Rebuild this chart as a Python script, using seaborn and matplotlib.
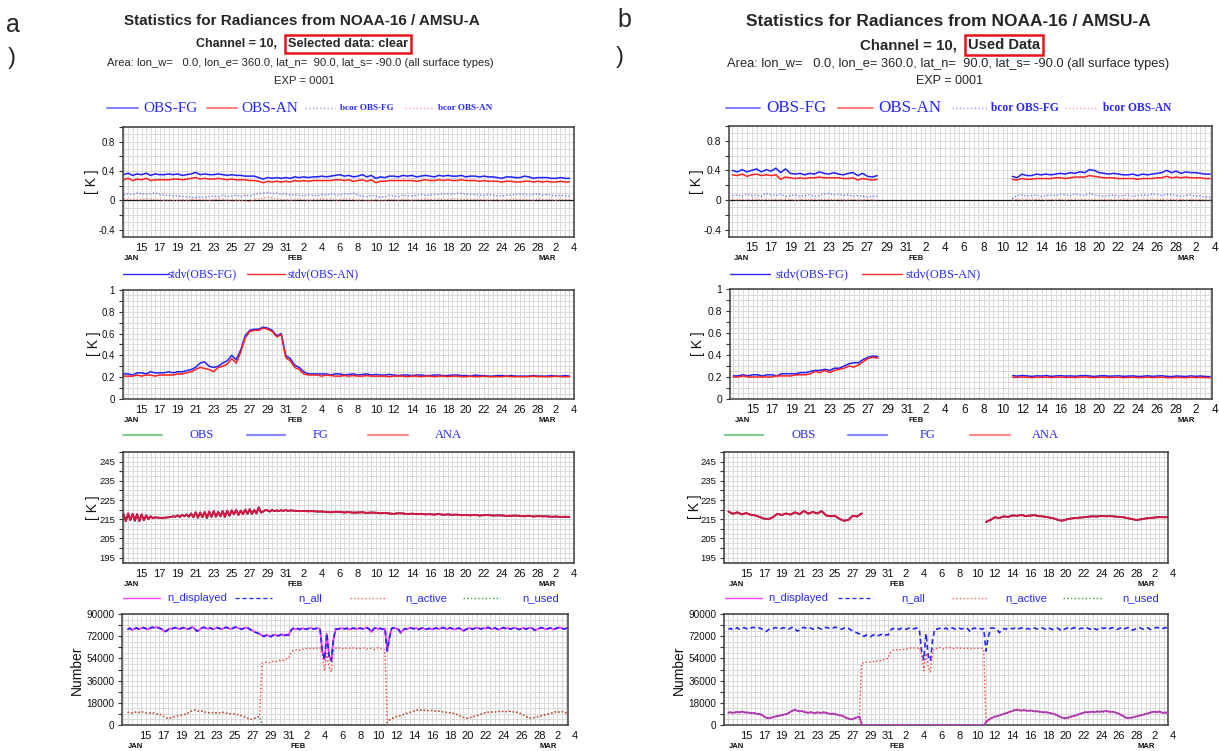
import numpy as np
import pandas as pd
import matplotlib
matplotlib.use("Agg")
import matplotlib.pyplot as plt
import seaborn as sns
from matplotlib.ticker import MultipleLocator, FixedLocator, FuncFormatter, NullFormatter
from matplotlib.lines import Line2D
from matplotlib.transforms import blended_transform_factory, offset_copy

# ---------------------------------------------------------------- data
# observation times in day-of-year (Jan 13 = 13, Feb 1 = 32, Mar 1 = 60)
t12 = np.arange(13.0, 63.0, 0.5)    # 12-hourly  Jan 13 00 .. Mar 3 12
t6 = np.arange(13.0, 63.0, 0.25)    # 6-hourly   Jan 13 00 .. Mar 3 18

xtick_days = [15, 17, 19, 21, 23, 25, 27, 29, 31, 33, 35, 37, 39, 41, 43, 45,
              47, 49, 51, 53, 55, 57, 59, 61, 63]
xtick_labels = ["15", "17", "19", "21", "23", "25", "27", "29", "31", "2", "4",
                "6", "8", "10", "12", "14", "16", "18", "20", "22", "24", "26",
                "28", "2", "4"]
month_days = [13.9, 32, 60]
month_labels = ["JAN", "FEB", "MAR"]

# ---- panel 1 : mean departures [K], 12-hourly
mean_fg_a = [.35, .37, .34, .36, .35, .37, .34, .36, .35, .35,
             .36, .35, .36, .34, .35, .36, .38, .35, .36, .35,
             .35, .36, .35, .34, .35, .34, .34, .33, .33, .33,
             .31, .29, .31, .30, .31, .30, .31, .30, .32, .31,
             .32, .31, .32, .32, .33, .32, .33, .34, .35, .33,
             .34, .32, .33, .35, .32, .34, .30, .32, .31, .33,
             .33, .32, .34, .33, .34, .32, .33, .34, .33, .32,
             .34, .33, .34, .33, .33, .34, .32, .33, .33, .32,
             .33, .32, .32, .31, .30, .32, .32, .31, .31, .33,
             .32, .30, .31, .31, .31, .30, .30, .31, .30, .30]
mean_an_a = [.28, .30, .27, .29, .28, .30, .27, .28, .28, .28,
             .28, .29, .29, .28, .29, .30, .31, .29, .30, .29,
             .29, .30, .29, .28, .29, .28, .28, .28, .27, .27,
             .26, .24, .26, .25, .26, .25, .26, .25, .27, .26,
             .27, .26, .27, .27, .27, .27, .27, .28, .28, .27,
             .28, .26, .27, .28, .26, .28, .24, .26, .26, .27,
             .27, .27, .27, .27, .27, .26, .27, .28, .27, .27,
             .28, .27, .28, .27, .27, .28, .27, .27, .27, .26,
             .27, .26, .26, .26, .25, .26, .26, .25, .25, .26,
             .26, .25, .26, .25, .26, .25, .25, .26, .25, .25]
bcor_fg_a = [.08, .09, .08, .10, .09, .08, .09, .10, .08, .07,
             .07, .06, .06, .05, .05, .04, .04, .05, .04, .05,
             .06, .05, .07, .05, .06, .07, .05, .07, .06, .08,
             .09, .10, .11, .09, .10, .08, .09, .07, .08, .07,
             .06, .08, .07, .06, .08, .07, .09, .08, .07, .09,
             .08, .10, .07, .06, .05, .07, .06, .04, .05, .07,
             .06, .05, .07, .06, .06, .07, .08, .07, .07, .08,
             .08, .09, .09, .08, .10, .09, .09, .08, .08, .07,
             .07, .08, .07, .06, .06, .07, .07, .08, .09, .08,
             .07, .08, .09, .07, .08, .07, .06, .07, .06, .06]
bcor_an_a = [.02, .01, .02, .01, .01, .02, .02, .01, .01, .00,
             .01, .00, .00, .01, .00, .01, .02, .01, .01, .00,
             .01, .02, .01, .00, .01, .00, .00, -.01, -.02, .01,
             .02, .03, .04, .03, .02, .01, .01, .00, .01, .02,
             .01, .00, .01, .01, .02, .01, .02, .00, .01, .02,
             .02, .01, .00, .01, -.01, .00, .01, -.01, .00, .01,
             .01, .00, .01, .01, .00, .01, .01, .02, .01, .01,
             .02, .01, .01, .02, .02, .01, .01, .02, .01, .01,
             .01, .00, .01, .01, .00, .01, .01, .02, .01, .01,
             .01, .00, .02, .01, .01, .01, .00, .01, .01, .01]
# used data (b): Jan 13 00 .. Jan 28 00 and Feb 11 00 .. Mar 3 12
mean_fg_b1 = [.40, .38, .41, .38, .40, .42, .38, .41, .39, .43,
              .37, .42, .36, .35, .36, .34, .36, .35, .38, .36,
              .35, .37, .35, .34, .36, .37, .33, .36, .32, .31, .33]
mean_an_b1 = [.34, .33, .35, .32, .34, .35, .33, .34, .33, .34,
              .28, .31, .30, .29, .30, .29, .30, .30, .31, .30,
              .30, .30, .30, .29, .29, .30, .27, .29, .28, .27, .28]
bcor_fg_b1 = [.06, .07, .05, .08, .06, .07, .05, .09, .07, .06,
              .08, .05, .06, .07, .05, .06, .07, .05, .06, .08,
              .09, .07, .08, .06, .07, .05, .06, .05, .04, .05, .05]
bcor_an_b1 = [.01, .00, .01, .00, .01, .01, .00, .01, .00, .01,
              .00, .01, .01, .00, .00, .01, .00, .01, .00, .01,
              .01, .00, .01, .00, .00, .01, .00, .00, .01, .00, .00]
mean_fg_b2 = [.32, .30, .35, .33, .33, .35, .34, .35, .34, .35,
              .36, .35, .37, .36, .38, .37, .41, .40, .37, .36,
              .35, .36, .35, .34, .34, .35, .33, .35, .34, .35,
              .36, .37, .40, .37, .39, .36, .38, .37, .37, .36,
              .35, .35]
mean_an_b2 = [.28, .27, .29, .28, .28, .29, .29, .29, .29, .30,
              .30, .29, .30, .31, .31, .31, .33, .32, .31, .30,
              .30, .30, .29, .29, .29, .29, .28, .29, .29, .29,
              .30, .30, .32, .30, .31, .30, .31, .30, .30, .30,
              .29, .29]
bcor_fg_b2 = [.02, .06, .07, .05, .06, .07, .05, .06, .07, .06,
              .08, .07, .06, .08, .07, .06, .09, .07, .06, .05,
              .06, .07, .05, .06, .07, .05, .06, .07, .06, .08,
              .07, .06, .08, .07, .06, .05, .06, .07, .05, .06,
              .04, .04]
bcor_an_b2 = [.00, .01, .00, .01, .00, .01, .01, .00, .01, .00,
              .01, .00, .01, .01, .00, .01, .00, .01, .00, .01,
              .00, .01, .00, .01, .01, .00, .01, .00, .01, .00,
              .01, .01, .00, .01, .00, .01, .00, .01, .00, .01,
              .00, .00]

# ---- panel 2 : standard deviations [K], 12-hourly
stdv_fg_a = [.23, .23, .22, .24, .24, .23, .25, .24, .24, .24,
             .25, .24, .25, .25, .26, .27, .29, .33, .34, .30,
             .29, .30, .33, .35, .40, .36, .45, .58, .63, .64,
             .64, .66, .65, .63, .58, .60, .40, .37, .31, .29,
             .25, .23, .23, .23, .23, .23, .22, .23, .23, .22,
             .225, .23, .22, .225, .23, .22, .225, .22, .22, .225,
             .22, .215, .22, .22, .215, .22, .22, .215, .215, .22,
             .22, .215, .215, .22, .22, .215, .215, .21, .22, .215,
             .215, .21, .21, .215, .215, .21, .215, .21, .21, .21,
             .21, .215, .21, .21, .21, .215, .21, .21, .215, .21]
stdv_an_a = [.21, .21, .21, .22, .21, .22, .22, .21, .22, .22,
             .22, .22, .23, .23, .24, .25, .27, .29, .28, .27,
             .25, .29, .30, .32, .37, .33, .43, .56, .62, .63,
             .63, .65, .64, .62, .57, .59, .38, .35, .29, .27,
             .23, .22, .22, .22, .21, .22, .215, .21, .21, .215,
             .21, .215, .21, .21, .215, .21, .21, .21, .21, .205,
             .21, .21, .21, .205, .21, .21, .205, .21, .21, .205,
             .21, .21, .205, .21, .21, .205, .205, .21, .205, .205,
             .21, .205, .205, .205, .205, .21, .205, .205, .205, .205,
             .205, .21, .205, .205, .205, .205, .21, .205, .205, .205]
stdv_fg_b1 = [.21, .21, .22, .21, .22, .22, .21, .22, .22, .21,
              .23, .23, .23, .23, .24, .24, .25, .26, .26, .27,
              .26, .28, .28, .30, .32, .33, .33, .36, .38, .39, .385]
stdv_an_b1 = [.20, .20, .21, .20, .20, .20, .20, .20, .20, .21,
              .21, .21, .21, .22, .22, .22, .23, .25, .24, .26,
              .24, .26, .27, .28, .30, .29, .31, .34, .37, .38, .37]
stdv_fg_b2 = [.212, .208, .214, .210, .205, .211, .209, .213, .206, .210,
              .212, .208, .210, .207, .211, .213, .209, .205, .210, .212,
              .207, .209, .211, .206, .208, .210, .205, .207, .211, .206,
              .209, .211, .206, .204, .209, .207, .205, .210, .206, .209,
              .205, .204]
stdv_an_b2 = [.198, .196, .200, .197, .194, .199, .197, .200, .195, .198,
              .199, .196, .198, .195, .199, .200, .197, .194, .198, .199,
              .195, .197, .199, .194, .196, .198, .194, .195, .199, .195,
              .197, .198, .194, .193, .197, .195, .194, .198, .195, .197,
              .194, .193]

# ---- panel 3 : brightness temperature [K]  (OBS, FG and ANA coincide)
tb_a_early = [217.5, 214.0, 218.0, 214.5, 217.8, 214.2, 217.6, 214.0,   # Jan 13-14, 6-hourly
              217.5, 214.5, 217.0, 215.0, 216.5, 215.5, 216.0, 215.8,
              215.8, 215.6, 215.8, 215.9, 216.0, 216.2, 216.5, 216.3,
              217.0, 216.2, 217.3, 216.5, 217.5, 216.3, 218.0, 216.0,
              218.6, 215.8, 218.5, 216.0, 218.8, 215.6, 219.0, 216.2,
              219.2, 216.3, 218.8, 216.5, 219.3, 216.2, 219.5, 216.8,
              219.6, 217.5, 219.8, 217.2, 219.5, 217.6, 220.0, 217.8,
              220.2, 217.8, 219.8, 218.0, 221.2, 218.5, 219.0, 219.8,
              219.5, 219.0, 219.8, 219.2, 219.6, 219.2, 219.7, 219.3,
              219.8, 219.3, 219.6, 219.5]
tb_a_late = [219.4, 219.2, 219.3, 219.1, 219.2, 219.0, 219.0, 218.8,     # Feb 1 .., 12-hourly
             218.6, 218.9, 218.8, 218.5, 218.7, 218.4, 218.5, 218.6,
             218.3, 218.5, 218.4, 218.1, 218.3, 218.0, 217.8, 218.1,
             218.0, 217.7, 217.9, 217.6, 217.8, 217.5, 217.6, 217.4,
             217.7, 217.3, 217.5, 217.3, 217.4, 217.1, 217.2, 217.0,
             217.3, 216.9, 217.1, 217.2, 216.9, 217.0, 217.0, 216.7,
             216.8, 216.9, 216.7, 216.5, 216.8, 216.4, 216.6, 216.5,
             216.5, 216.3, 216.4, 216.2, 216.3, 216.2]
tb_b1 = [219.0, 217.8, 218.6, 217.5, 218.2, 217.3, 217.0, 216.2, 215.3, 215.0,
         216.0, 217.8, 217.2, 218.0, 217.4, 218.6, 217.6, 219.3, 217.9, 218.8,
         218.0, 219.2, 217.0, 216.5, 216.8, 215.2, 214.2, 214.6, 216.8, 216.4,
         218.0]
tb_b2 = [213.6, 214.6, 216.0, 215.6, 216.5, 216.2, 217.0, 216.8, 217.2, 216.6,
         216.9, 217.1, 216.6, 216.4, 216.0, 215.6, 214.8, 214.2, 214.8, 215.3,
         215.6, 215.8, 216.0, 216.3, 216.5, 216.4, 216.7, 216.5, 216.6, 216.4,
         216.2, 216.0, 215.5, 215.0, 214.6, 215.0, 215.4, 215.6, 215.9, 216.1,
         216.0, 216.1]

# ---- panel 4 : numbers of observations (thousands), 6-hourly
n_all = [77.5, 78.5, 77.0, 78.0, 78.8, 77.6, 78.4, 79.0,   # Jan 13-14
         78.2, 77.4, 78.6, 79.2, 78.8, 79.4, 78.6, 78.0,
         76.5, 75.8, 77.2, 78.4, 78.0, 79.0, 78.6, 77.8,
         78.4, 79.0, 78.2, 77.6, 78.6, 79.4, 77.8, 76.2,
         76.8, 78.6, 79.2, 78.4, 78.0, 78.8, 77.6, 78.2,
         79.0, 78.4, 77.6, 78.6, 79.2, 78.6, 77.8, 78.4,
         79.4, 78.8, 78.2, 77.6, 78.6, 79.0, 78.4, 77.2,
         76.4, 75.2, 74.6, 73.8, 72.6, 71.8, 73.0, 72.4,   # Jan 27-28
         71.6, 72.8, 73.4, 72.2, 72.8, 73.6, 72.4, 73.2,
         73.0, 76.8, 78.4, 77.6, 78.2, 77.4, 78.6, 78.0,   # Jan 31 - Feb 1
         77.6, 78.4, 78.8, 77.8, 78.2, 78.6, 77.6, 60.0,
         53.0, 74.0, 56.0, 52.0, 70.0, 78.0, 77.6, 78.4,   # Feb 4-5
         78.4, 77.8, 78.6, 77.4, 78.0, 78.8, 77.6, 78.2,
         78.6, 77.8, 78.4, 79.0, 77.6, 75.4, 78.2, 78.6,
         77.8, 78.4, 77.6, 78.2, 60.0, 71.0, 78.4, 78.8,   # Feb 10-11
         78.2, 77.6, 74.8, 76.8, 78.2, 77.6, 78.8, 78.4,
         78.0, 78.6, 77.4, 78.2, 78.8, 77.6, 77.8, 78.4,
         77.4, 78.2, 78.6, 77.8, 78.4, 79.0, 78.2, 77.6,
         78.8, 78.2, 77.4, 78.0, 78.6, 77.8, 76.2, 77.4,
         78.2, 78.8, 77.6, 78.4, 79.0, 78.4, 77.8, 78.6,
         78.2, 79.2, 78.4, 77.6, 78.8, 78.0, 77.2, 78.4,
         79.0, 78.2, 78.8, 77.6, 78.4, 79.0, 78.2, 77.4,
         78.2, 78.8, 77.6, 78.4, 79.0, 78.2, 76.8, 77.6,
         78.4, 79.0, 78.2, 77.6, 78.2, 78.8, 77.4, 78.0,   # Feb 28 - Mar 1
         78.6, 79.2, 78.4, 77.8, 78.4, 79.0, 78.2, 77.6]
n_used = [10.0, 10.4, 9.8, 10.2, 10.6, 10.2, 10.8, 10.4,   # Jan 13-14
          10.0, 10.2, 9.6, 9.8, 9.4, 8.8, 9.0, 8.2,
          7.0, 6.0, 5.4, 5.8, 6.4, 6.8, 7.2, 7.6,
          8.0, 8.4, 8.8, 9.6, 10.8, 11.8, 12.2, 11.6,
          11.0, 11.4, 10.6, 10.2, 9.8, 10.4, 10.0, 9.6,
          10.2, 10.0, 9.8, 10.4, 9.6, 9.4, 9.0, 9.2,
          8.8, 8.4, 8.0, 7.6, 6.8, 6.0, 5.2, 4.6,
          4.8, 5.6, 6.4, 6.8,                              # Jan 27
          0.0, 0.0, 0.0, 0.0, 0.0, 0.0, 0.0, 0.0,          # Jan 28 - Feb 10
          0.0, 0.0, 0.0, 0.0, 0.0, 0.0, 0.0, 0.0,
          0.0, 0.0, 0.0, 0.0, 0.0, 0.0, 0.0, 0.0,
          0.0, 0.0, 0.0, 0.0, 0.0, 0.0, 0.0, 0.0,
          0.0, 0.0, 0.0, 0.0, 0.0, 0.0, 0.0, 0.0,
          0.0, 0.0, 0.0, 0.0, 0.0, 0.0, 0.0, 0.0,
          0.0, 0.0, 0.0, 0.0, 0.0, 0.0, 0.0, 0.0,
          2.0, 4.0, 5.2, 6.0, 6.8, 7.2, 7.8, 8.4,          # Feb 11-12
          9.0, 9.6, 10.2, 10.8, 11.4, 12.0, 12.4, 12.0,
          11.6, 12.0, 11.8, 11.4, 11.8, 11.4, 11.0, 11.2,
          10.8, 10.6, 10.2, 10.4, 10.0, 9.6, 9.2, 8.6,
          8.0, 7.0, 6.2, 5.6, 5.4, 6.0, 6.6, 7.0,
          7.6, 8.2, 8.8, 9.4, 10.0, 10.4, 10.2, 10.6,
          10.8, 10.4, 11.0, 10.6, 11.2, 10.8, 11.4, 11.0,
          10.6, 10.8, 10.2, 9.8, 9.0, 8.0, 7.0, 6.0,
          5.6, 5.8, 6.2, 6.6, 7.0, 7.6, 8.0, 8.4,
          9.0, 9.4, 10.0, 10.6, 10.8, 10.4, 11.0, 10.2,
          9.8, 10.2, 9.6, 9.4]
# n_active where it differs from n_used (Jan 28 00 .. Feb 10 18)
n_active_mid = [50.0, 50.6, 51.0, 50.4, 51.2, 51.6, 51.0, 52.0,
                52.4, 52.0, 53.0, 53.6, 54.0, 59.0, 60.6, 61.0,
                61.0, 60.6, 61.6, 61.2, 62.0, 61.6, 62.4, 62.0,
                62.6, 62.2, 62.8, 57.0, 44.0, 58.0, 47.0, 43.0,
                60.0, 62.4, 62.0, 62.8, 62.2, 61.6, 62.6, 62.0,
                62.8, 62.2, 61.8, 62.4, 62.0, 62.6, 62.2, 61.6,
                62.4, 62.0, 61.4, 62.2, 62.6, 61.8, 62.2, 61.0]
n_active = n_used[:60] + n_active_mid + n_used[116:]
n_displayed_a = n_all      # selected data: displayed = all
n_displayed_b = n_used     # used data: displayed = used

for nm, arr, n in [("mean_fg_a", mean_fg_a, 100), ("mean_an_a", mean_an_a, 100),
                   ("bcor_fg_a", bcor_fg_a, 100), ("bcor_an_a", bcor_an_a, 100),
                   ("stdv_fg_a", stdv_fg_a, 100), ("stdv_an_a", stdv_an_a, 100),
                   ("mean_fg_b1", mean_fg_b1, 31), ("mean_an_b1", mean_an_b1, 31),
                   ("bcor_fg_b1", bcor_fg_b1, 31), ("bcor_an_b1", bcor_an_b1, 31),
                   ("stdv_fg_b1", stdv_fg_b1, 31), ("stdv_an_b1", stdv_an_b1, 31),
                   ("mean_fg_b2", mean_fg_b2, 42), ("mean_an_b2", mean_an_b2, 42),
                   ("bcor_fg_b2", bcor_fg_b2, 42), ("bcor_an_b2", bcor_an_b2, 42),
                   ("stdv_fg_b2", stdv_fg_b2, 42), ("stdv_an_b2", stdv_an_b2, 42),
                   ("tb_a_early", tb_a_early, 76), ("tb_a_late", tb_a_late, 62),
                   ("tb_b1", tb_b1, 31), ("tb_b2", tb_b2, 42),
                   ("n_all", n_all, 200), ("n_used", n_used, 200),
                   ("n_active", n_active, 200)]:
    assert len(arr) == n, (nm, len(arr), n)

# ---------------------------------------------------------------- figure
sns.set_theme(style="white")
plt.rcParams["font.family"] = ["Liberation Sans", "DejaVu Sans"]
SERIF = ["Liberation Serif", "DejaVu Serif"]
TXT_BLUE = "#2727ff"

W, H = 1219, 751
fig = plt.figure(figsize=(W / 100, H / 100), dpi=100)
fig.patch.set_facecolor("white")


def add_ax(x0, y0, x1, y1):
    return fig.add_axes([x0 / W, 1 - y1 / H, (x1 - x0) / W, (y1 - y0) / H])


def yfmt(base, step):
    def f(v, pos):
        k = (v - base) / step
        if abs(k - round(k)) > 1e-6:
            return ""
        s = f"{round(v, 3):g}"
        return "0" if s in ("-0", "0") else s
    return FuncFormatter(f)


def draw(ax, pieces, color, lw=1.0, ls="-", z=2):
    frames = [pd.DataFrame({"day": np.asarray(d), "value": np.asarray(v, dtype=float), "seg": k})
              for k, (d, v) in enumerate(pieces)]
    df = pd.concat(frames, ignore_index=True)
    sns.lineplot(data=df, x="day", y="value", units="seg", estimator=None, sort=False,
                 ax=ax, color=color, linewidth=lw, linestyle=ls, legend=False, zorder=z)


def style(ax, xlim, ylim, tick, base, lstep, grid, xl=8, yl=7, dy1=11, dy2=22):
    ax.set_xlim(*xlim)
    ax.set_ylim(*ylim)
    ax.set_xlabel("")
    ax.set_ylabel("")
    ax.set_facecolor("white")
    ax.xaxis.set_major_locator(FixedLocator(xtick_days))
    ax.xaxis.set_minor_locator(MultipleLocator(0.5))
    ax.xaxis.set_major_formatter(NullFormatter())
    ax.tick_params(axis="x", which="both", length=0, labelbottom=False)
    ax.yaxis.set_major_locator(MultipleLocator(tick))
    ax.yaxis.set_minor_locator(MultipleLocator(grid))
    ax.yaxis.set_major_formatter(yfmt(base, lstep))
    ax.tick_params(axis="y", which="major", direction="out", length=3, width=0.8,
                   color="#333333", labelsize=yl, pad=2.5, left=True, labelcolor="#111111")
    ax.tick_params(axis="y", which="minor", length=0)
    ax.grid(True, which="both", color="#d9d9d9", linewidth=0.7)
    ax.set_axisbelow(True)
    for s in ax.spines.values():
        s.set_visible(True)
        s.set_color("#3c3c3c")
        s.set_linewidth(1.1)
    bt = blended_transform_factory(ax.transData, ax.transAxes)
    t1 = offset_copy(bt, fig=fig, y=-dy1, units="dots")
    t2 = offset_copy(bt, fig=fig, y=-dy2, units="dots")
    for d, s in zip(xtick_days, xtick_labels):
        ax.text(d, 0, s, transform=t1, ha="center", va="center", fontsize=xl,
                color="#111111", clip_on=False)
    for d, s in zip(month_days, month_labels):
        ax.text(d, 0, s, transform=t2, ha="center", va="center", fontsize=5.5,
                fontweight="bold", color="#111111", clip_on=False)


def leg_line(x0, x1, y, color, lw=1.2, ls="-"):
    fig.add_artist(Line2D([x0 / W, x1 / W], [1 - y / H, 1 - y / H],
                          transform=fig.transFigure, color=color, lw=lw, linestyle=ls))


def ftext(x, y, s, **kw):
    kw.setdefault("va", "center")
    fig.text(x / W, 1 - y / H, s, **kw)


TITLE = "Statistics for Radiances from NOAA-16 / AMSU-A"
AREA = "Area: lon_w=   0.0, lon_e= 360.0, lat_n=  90.0, lat_s= -90.0 (all surface types)"
BOX = dict(boxstyle="square,pad=0.22", fc="white", ec="#e8141c", lw=1.8)

# ---------------- headers
ftext(13, 25, "a", ha="center", fontsize=18)
ftext(12, 58, ")", ha="center", fontsize=17)
ftext(302, 21, TITLE, ha="center", fontsize=11, fontweight="bold")
ftext(277, 44, "Channel = 10,", ha="right", fontsize=9, fontweight="bold")
ftext(348, 44, "Selected data: clear", ha="center", fontsize=9.2, fontweight="bold", bbox=BOX)
ftext(300, 63.5, AREA, ha="center", fontsize=8.1)
ftext(304, 81, "EXP = 0001", ha="center", fontsize=8.1)

ftext(624, 20, "b", ha="center", fontsize=18)
ftext(620, 57, ")", ha="center", fontsize=17)
ftext(948, 22, TITLE, ha="center", fontsize=12.5, fontweight="bold")
ftext(957, 45, "Channel = 10,", ha="right", fontsize=10.8, fontweight="bold")
ftext(1004, 45, "Used Data", ha="center", fontsize=10.6, fontweight="bold", bbox=BOX)
ftext(948, 63.5, AREA, ha="center", fontsize=9.3)
ftext(950, 81, "EXP = 0001", ha="center", fontsize=9.0)

# ---------------- legends
for (l1, t1, l2, t2, l3, t3, l4, t4, big, small) in [
        ((107, 138), 143, (207, 237), 241, (305, 335), 340, (405, 435), 438, 11, 6.6),
        ((726, 760), 766, (838, 873), 878, (952, 988), 991, (1065, 1097), 1103, 12.2, 8.3)]:
    y = 108
    leg_line(*l1, y, "#7d7dff", lw=1.4)
    ftext(t1, y, "OBS-FG", family=SERIF, fontsize=big, color=TXT_BLUE)
    leg_line(*l2, y, "#ff7d7d", lw=1.4)
    ftext(t2, y, "OBS-AN", family=SERIF, fontsize=big, color=TXT_BLUE)
    leg_line(*l3, y, "#9a9aff", lw=1.0, ls=":")
    ftext(t3, y, "bcor OBS-FG", family=SERIF, fontsize=small, fontweight="bold", color=TXT_BLUE)
    leg_line(*l4, y, "#ff9a9a", lw=1.0, ls=":")
    ftext(t4, y, "bcor OBS-AN", family=SERIF, fontsize=small, fontweight="bold", color=TXT_BLUE)

for (l1, t1, l2, t2, fs) in [((123, 168), 167, (247, 285), 288, 8.5),
                             ((730, 770), 775, (862, 902), 905, 8.9)]:
    y = 274
    leg_line(*l1, y, "#2a2aff", lw=1.0)
    ftext(t1, y, "stdv(OBS-FG)", family=SERIF, fontsize=fs, color=TXT_BLUE)
    leg_line(*l2, y, "#ff2a2a", lw=1.0)
    ftext(t2, y, "stdv(OBS-AN)", family=SERIF, fontsize=fs, color=TXT_BLUE)

for (l1, t1, l2, t2, l3, t3) in [((123, 162), 190, (247, 285), 313, (368, 408), 435),
                                 ((725, 763), 792, (848, 887), 920, (970, 1010), 1032)]:
    y = 435
    leg_line(*l1, y, "#86cc96", lw=1.6)
    ftext(t1, y, "OBS", family=SERIF, fontsize=9, color=TXT_BLUE)
    leg_line(*l2, y, "#8a8aff", lw=1.6)
    ftext(t2, y, "FG", family=SERIF, fontsize=9, color=TXT_BLUE)
    leg_line(*l3, y, "#ff8a8a", lw=1.6)
    ftext(t3, y, "ANA", family=SERIF, fontsize=9, color=TXT_BLUE)

for (l1, t1, l2, t2, l3, t3, l4, t4) in [
        ((123, 160), 167, (235, 272), 298, (350, 387), 405, (463, 500), 522),
        ((725, 762), 768, (838, 873), 901, (952, 988), 1005, (1063, 1102), 1122)]:
    y = 598
    leg_line(*l1, y, "#ff44ff", lw=1.0)
    ftext(t1, y, "n_displayed", fontsize=8, color=TXT_BLUE)
    leg_line(*l2, y, "#3030ff", lw=1.0, ls=(0, (3, 2)))
    ftext(t2, y, "n_all", fontsize=8, color=TXT_BLUE)
    leg_line(*l3, y, "#ff6a6a", lw=1.0, ls=":")
    ftext(t3, y, "n_active", fontsize=8, color=TXT_BLUE)
    leg_line(*l4, y, "#3a9a3a", lw=1.0, ls=":")
    ftext(t4, y, "n_used", fontsize=8, color=TXT_BLUE)

# ---------------- y labels
for (x, y, s) in [(92, 182, "[ K ]"), (94, 344, "[ K ]"), (93, 508, "[ K ]"), (77, 670, "Number"),
                  (697, 182, "[ K ]"), (698, 344, "[ K ]"), (695, 507, "[ K ]"), (679, 670, "Number")]:
    ftext(x, y, s, ha="center", rotation=90, fontsize=10, color="#111111")

# ---------------- axes
a1 = add_ax(122.7, 127, 574, 237)
a2 = add_ax(122.7, 290, 574, 399)
a3 = add_ax(122.7, 452, 574, 563)
a4 = add_ax(122.3, 614, 568, 725)
b1 = add_ax(729, 126, 1212, 237)
b2 = add_ax(730, 289, 1212, 399)
b3 = add_ax(724, 452, 1168, 563)
b4 = add_ax(724, 614, 1168, 725)

s1, s2 = t12[:31], t12[58:]
K = 1000.0

# panel 1
draw(a1, [(t12, bcor_an_a)], "#ff6f6f", lw=0.9, ls=":")
draw(a1, [(t12, bcor_fg_a)], "#6464ff", lw=0.9, ls=":")
draw(a1, [(t12, mean_an_a)], "#ff2020", lw=1.1)
draw(a1, [(t12, mean_fg_a)], "#2020ff", lw=1.1)
draw(b1, [(s1, bcor_an_b1), (s2, bcor_an_b2)], "#ff6f6f", lw=0.9, ls=":")
draw(b1, [(s1, bcor_fg_b1), (s2, bcor_fg_b2)], "#6464ff", lw=0.9, ls=":")
draw(b1, [(s1, mean_an_b1), (s2, mean_an_b2)], "#ff2020", lw=1.1)
draw(b1, [(s1, mean_fg_b1), (s2, mean_fg_b2)], "#2020ff", lw=1.1)
for ax in (a1, b1):
    ax.axhline(0, color="#1a1a1a", lw=0.9, zorder=1.5)

# panel 2
draw(a2, [(t12, stdv_fg_a)], "#2020ff", lw=1.1)
draw(a2, [(t12, stdv_an_a)], "#ff2020", lw=1.1)
draw(b2, [(s1, stdv_fg_b1), (s2, stdv_fg_b2)], "#2020ff", lw=1.1)
draw(b2, [(s1, stdv_an_b1), (s2, stdv_an_b2)], "#ff2020", lw=1.1)

# panel 3
tb_days_a = np.concatenate([t6[:76], t12[38:]])
tb_a = tb_a_early + tb_a_late
for col, lw in [("#2e9e4e", 1.1), ("#3030ff", 1.1), ("#d8163a", 1.4)]:
    draw(a3, [(tb_days_a, tb_a)], col, lw=lw)
    draw(b3, [(s1, tb_b1), (s2, tb_b2)], col, lw=lw)

# panel 4
draw(a4, [(t6, np.array(n_displayed_a) * K)], "#ff33ff", lw=1.3)
draw(a4, [(t6, np.array(n_used) * K)], "#2a8a2a", lw=1.0, ls=":")
draw(a4, [(t6, np.array(n_active) * K)], "#ff3a3a", lw=1.0, ls=":")
draw(a4, [(t6, np.array(n_all) * K)], "#2323ff", lw=1.2, ls=(0, (3, 2)), z=3)
draw(b4, [(t6, np.array(n_all) * K)], "#2323ff", lw=1.2, ls=(0, (3, 2)))
draw(b4, [(t6, np.array(n_active) * K)], "#ff3a3a", lw=1.0, ls=":")
draw(b4, [(t6, np.array(n_displayed_b) * K)], "#e030e0", lw=1.4, z=3)
draw(b4, [(t6, np.array(n_used) * K)], "#2a6a2a", lw=0.9, ls=":", z=3)

# styling
style(a1, (12.9, 63.0), (-0.5, 1.0), 0.2, 0.0, 0.4, 0.1)
style(a2, (12.9, 63.0), (0.0, 1.0), 0.1, 0.0, 0.2, 0.05)
style(a3, (12.9, 63.0), (192.2, 250.0), 5, 195, 10, 2.5, yl=6.8)
style(a4, (12.4, 62.2), (0, 90000), 9000, 0, 18000, 4500, yl=7.2)
style(b1, (12.65, 62.7), (-0.5, 1.0), 0.2, 0.0, 0.4, 0.1, xl=8.5, yl=7.5)
style(b2, (12.65, 62.7), (0.0, 1.0), 0.1, 0.0, 0.2, 0.05, xl=8.5, yl=7.5)
style(b3, (12.5, 62.5), (192.2, 250.0), 5, 195, 10, 2.5, yl=6.8)
style(b4, (12.5, 62.5), (0, 90000), 9000, 0, 18000, 4500, yl=7.2)

fig.savefig("out.png", dpi=100, facecolor="white")
